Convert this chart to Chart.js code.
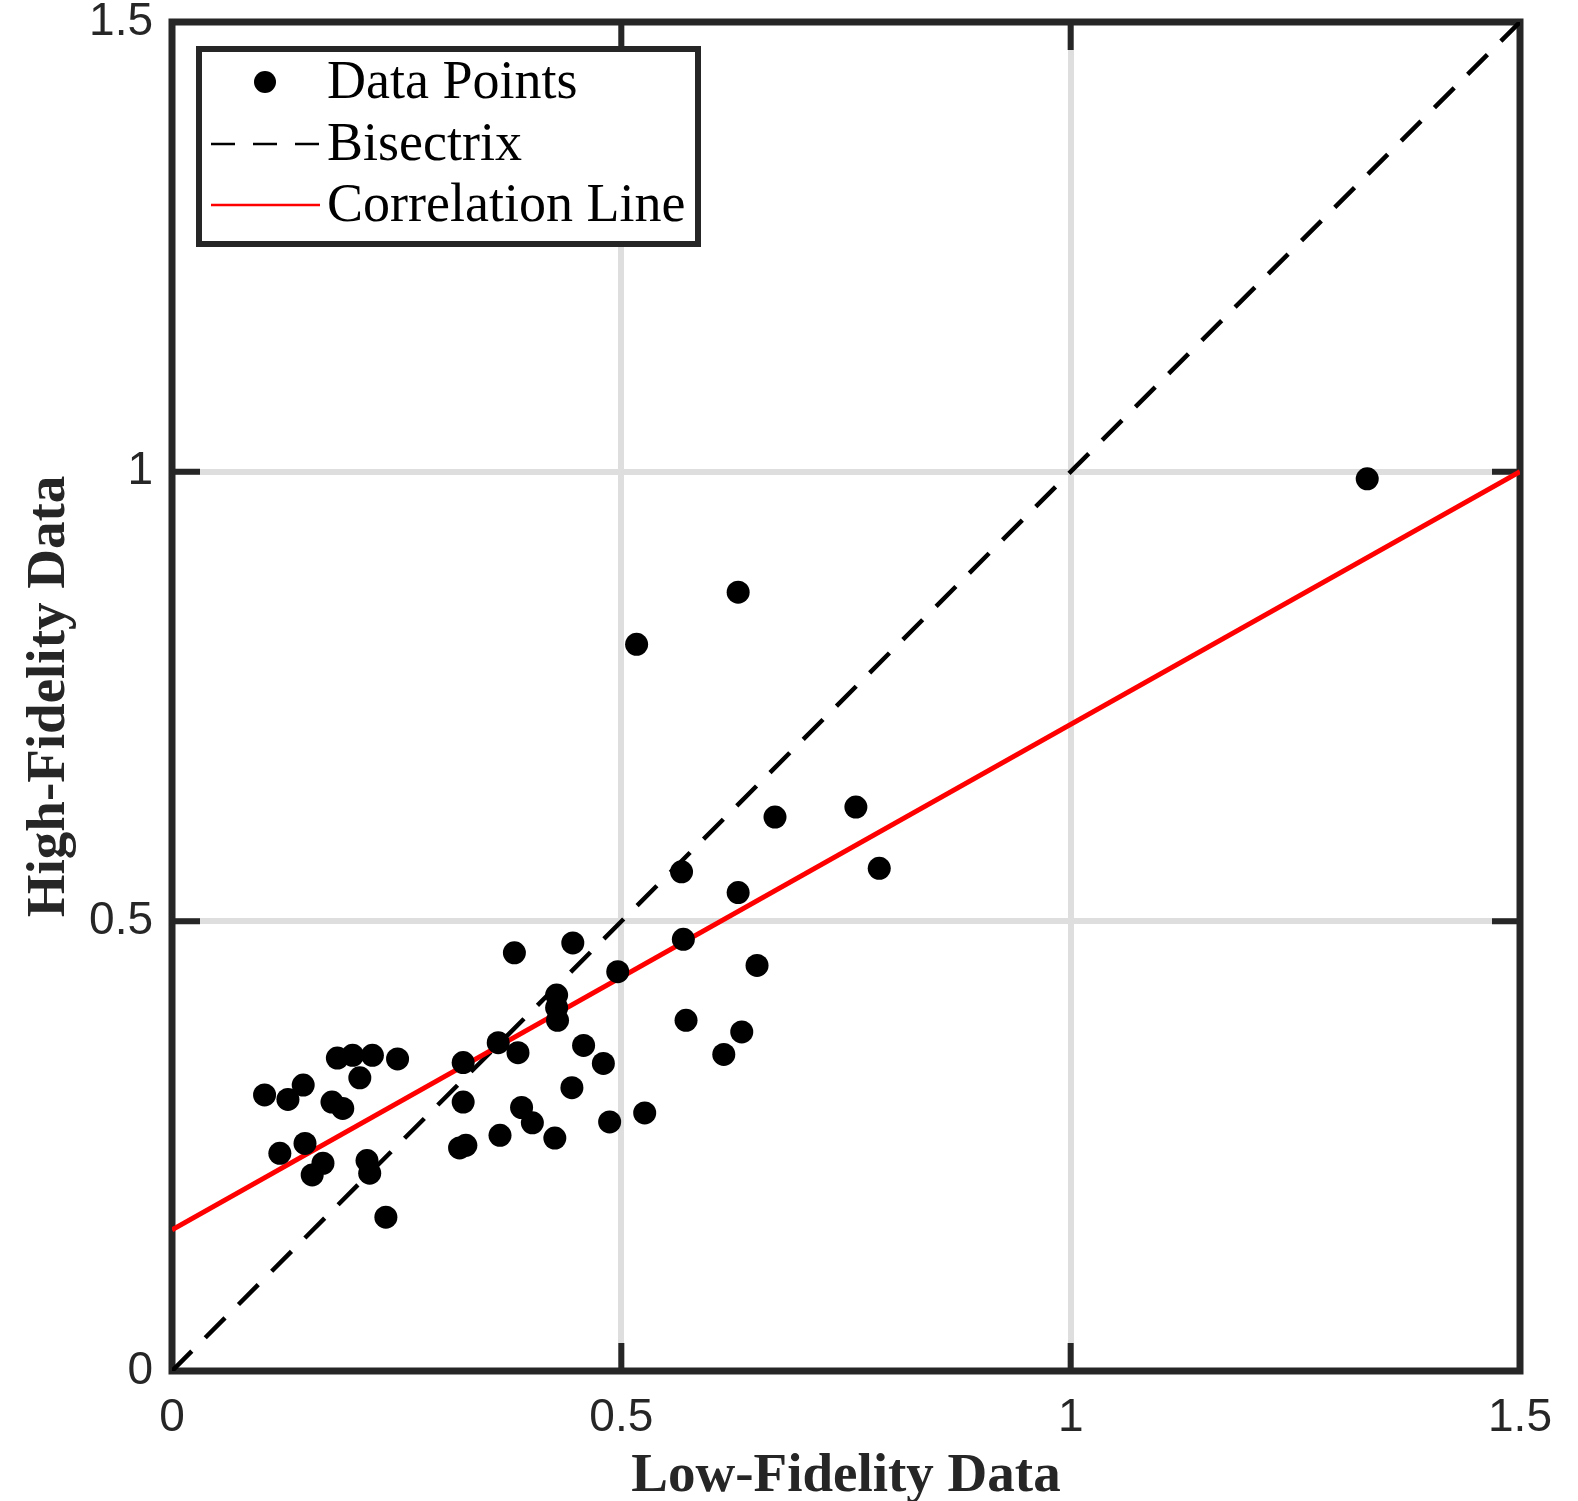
<!DOCTYPE html>
<html>
<head>
<meta charset="utf-8">
<title>Low vs High Fidelity</title>
<script src="https://cdn.jsdelivr.net/npm/chart.js@4.4.1/dist/chart.umd.min.js"></script>
<style>
  html, body { margin: 0; padding: 0; background: #fff; }
  #wrap { width: 1578px; height: 1501px; }
</style>
</head>
<body>
<div id="wrap"><canvas id="fidelityChart" width="1578" height="1501"></canvas></div>
<script>
// data
const lowFidelity = [
  1.330, 0.630, 0.517, 0.761, 0.671, 0.567, 0.787, 0.630, 0.569, 0.446,
  0.381, 0.651, 0.496, 0.428, 0.428, 0.429, 0.363, 0.324, 0.385, 0.458,
  0.480, 0.572, 0.634, 0.614, 0.445, 0.324, 0.389, 0.401, 0.365, 0.320,
  0.327, 0.426, 0.487, 0.526, 0.184, 0.201, 0.223, 0.251, 0.209, 0.146,
  0.103, 0.129, 0.178, 0.190, 0.120, 0.148, 0.168, 0.156, 0.217, 0.220,
  0.238
];
const highFidelity = [
  0.992, 0.866, 0.808, 0.627, 0.616, 0.555, 0.559, 0.532, 0.480, 0.476,
  0.465, 0.451, 0.444, 0.418, 0.404, 0.390, 0.365, 0.343, 0.354, 0.362,
  0.342, 0.390, 0.377, 0.352, 0.315, 0.299, 0.293, 0.276, 0.262, 0.248,
  0.251, 0.259, 0.277, 0.287, 0.348, 0.351, 0.351, 0.347, 0.326, 0.318,
  0.307, 0.302, 0.299, 0.292, 0.242, 0.253, 0.231, 0.218, 0.234, 0.220,
  0.171
];
const bisectrixX = [0, 1.5];
const bisectrixY = [0, 1.5];
const correlationX = [0, 1.5];
const correlationY = [0.157, 1.0];

const tickValues = [0, 0.5, 1, 1.5];
const tickLabels = ['0', '0.5', '1', '1.5'];

const ink = '#262626';

function toPoints(xs, ys) {
  return xs.map((x, i) => ({ x: x, y: ys[i] }));
}

function fixedTicks(scale) {
  scale.ticks = tickValues.map(v => ({ value: v }));
}

function tickText(value) {
  const i = tickValues.indexOf(value);
  return i >= 0 ? tickLabels[i] : '';
}

function gridColor(ctx) {
  const v = ctx.tick ? ctx.tick.value : null;
  return (v === 0.5 || v === 1) ? '#dedede' : 'rgba(0,0,0,0)';
}

// frame with inward tick marks + boxed legend, matlab style
const matlabAxes = {
  id: 'matlabAxes',
  beforeDatasetsDraw(chart) {
    const { ctx, chartArea: a, scales } = chart;
    ctx.save();
    ctx.strokeStyle = ink;
    ctx.lineWidth = 6;
    ctx.lineCap = 'butt';
    const tl = 28;
    [0.5, 1].forEach(v => {
      const px = scales.x.getPixelForValue(v);
      const py = scales.y.getPixelForValue(v);
      ctx.beginPath();
      ctx.moveTo(px, a.bottom); ctx.lineTo(px, a.bottom - tl);
      ctx.moveTo(px, a.top); ctx.lineTo(px, a.top + tl);
      ctx.moveTo(a.left, py); ctx.lineTo(a.left + tl, py);
      ctx.moveTo(a.right, py); ctx.lineTo(a.right - tl, py);
      ctx.stroke();
    });
    ctx.lineWidth = 7;
    ctx.strokeRect(a.left, a.top, a.right - a.left, a.bottom - a.top);
    ctx.restore();
  },
  afterDraw(chart) {
    const { ctx, chartArea: a } = chart;
    const sets = chart.data.datasets;
    const bx = a.left + 27, by = a.top + 27, bw = 499, bh = 195;
    ctx.save();
    ctx.fillStyle = '#fff';
    ctx.fillRect(bx, by, bw, bh);
    ctx.strokeStyle = ink;
    ctx.lineWidth = 6;
    ctx.strokeRect(bx, by, bw, bh);

    const rows = [by + 33, by + 95, by + 156];
    ctx.font = '54px "Liberation Serif", serif';
    ctx.textBaseline = 'middle';
    ctx.textAlign = 'left';
    sets.forEach((ds, i) => {
      const y = rows[i];
      if (i === 0) {
        ctx.fillStyle = ds.backgroundColor;
        ctx.beginPath();
        ctx.arc(bx + 66, y, 11, 0, Math.PI * 2);
        ctx.fill();
      } else {
        ctx.strokeStyle = ds.borderColor;
        ctx.lineWidth = 2.5;
        ctx.setLineDash(ds.borderDash ? [24, 18] : []);
        ctx.beginPath();
        ctx.moveTo(bx + 12, y);
        ctx.lineTo(bx + 121, y);
        ctx.stroke();
        ctx.setLineDash([]);
      }
      ctx.fillStyle = '#000';
      ctx.fillText(ds.label, bx + 128, y + 2);
    });
    ctx.restore();
  }
};

const chart = new Chart(document.getElementById('fidelityChart').getContext('2d'), {
  type: 'scatter',
  data: {
    datasets: [
      {
        label: 'Data Points',
        data: toPoints(lowFidelity, highFidelity),
        backgroundColor: '#000',
        borderWidth: 0,
        pointRadius: 11.5,
        order: 1
      },
      {
        label: 'Bisectrix',
        data: toPoints(bisectrixX, bisectrixY),
        showLine: true,
        borderColor: '#000',
        borderWidth: 4.5,
        borderDash: [28, 19],
        pointRadius: 0,
        order: 3
      },
      {
        label: 'Correlation Line',
        data: toPoints(correlationX, correlationY),
        showLine: true,
        borderColor: '#ff0000',
        borderWidth: 5,
        pointRadius: 0,
        order: 2
      }
    ]
  },
  options: {
    responsive: false,
    animation: false,
    layout: { padding: { left: 0, top: 22, right: 58, bottom: 0 } },
    plugins: {
      legend: { display: false },
      tooltip: { enabled: false }
    },
    scales: {
      x: {
        type: 'linear',
        min: 0,
        max: 1.5,
        afterBuildTicks: fixedTicks,
        afterFit: s => { s.height = 130; s.paddingLeft = 0; s.paddingRight = 0; },
        border: { display: false },
        grid: { color: gridColor, lineWidth: 6, drawTicks: false },
        ticks: {
          callback: tickText,
          color: ink,
          padding: 20,
          maxRotation: 0,
          font: { family: '"Liberation Sans", Arial, sans-serif', size: 46 }
        },
        title: {
          display: true,
          text: 'Low-Fidelity Data',
          color: ink,
          padding: { top: 0, bottom: -3 },
          font: { family: '"Liberation Serif", serif', size: 55, weight: 'bold', lineHeight: 1 }
        }
      },
      y: {
        type: 'linear',
        min: 0,
        max: 1.5,
        afterBuildTicks: fixedTicks,
        afterFit: s => { s.width = 172; s.paddingTop = 0; s.paddingBottom = 0; },
        border: { display: false },
        grid: { color: gridColor, lineWidth: 6, drawTicks: false },
        ticks: {
          callback: tickText,
          color: ink,
          padding: 19,
          font: { family: '"Liberation Sans", Arial, sans-serif', size: 46 }
        },
        title: {
          display: true,
          text: 'High-Fidelity Data',
          color: ink,
          padding: { top: 22, bottom: 0 },
          font: { family: '"Liberation Serif", serif', size: 55, weight: 'bold', lineHeight: 1 }
        }
      }
    }
  },
  plugins: [matlabAxes]
});
</script>
</body>
</html>
